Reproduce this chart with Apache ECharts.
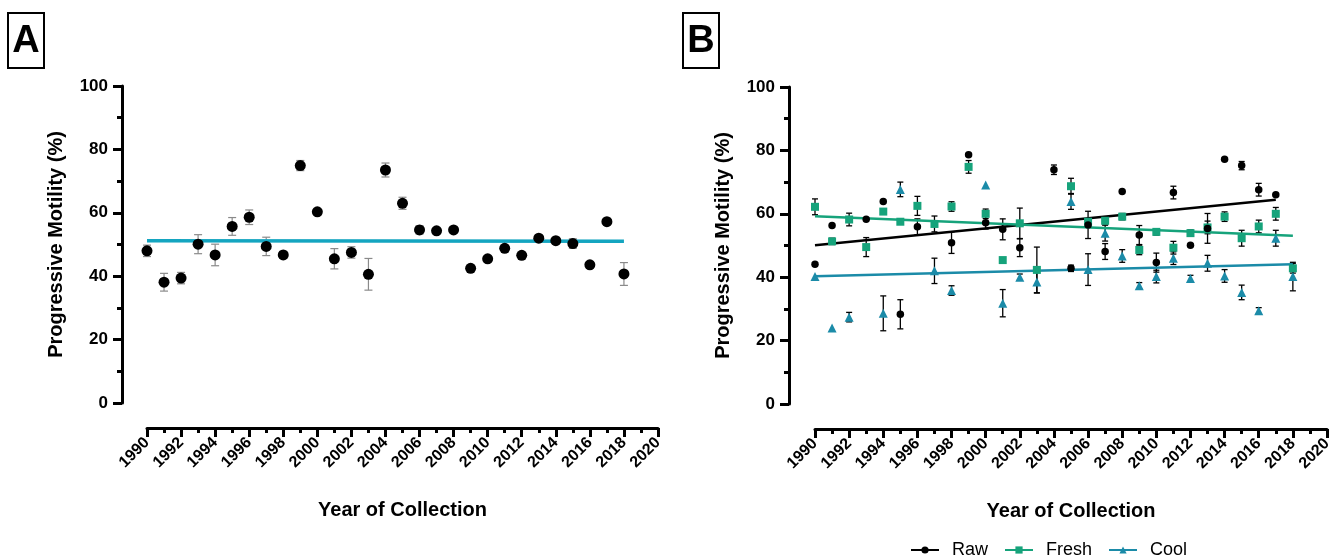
<!DOCTYPE html>
<html>
<head>
<meta charset="utf-8">
<script src="https://cdn.jsdelivr.net/npm/echarts@6/dist/echarts.min.js"></script>
<style>
html,body{margin:0;padding:0;background:#fff;}
#chart{width:1341px;height:557px;}
</style>
</head>
<body>
<div id="chart"></div>
<script>
// ---------- DATA ----------
const years = [1990,1991,1992,1993,1994,1995,1996,1997,1998,1999,2000,2001,2002,2003,2004,2005,2006,2007,2008,2009,2010,2011,2012,2013,2014,2015,2016,2017,2018];
const xTickLabels = ['1990','1992','1994','1996','1998','2000','2002','2004','2006','2008','2010','2012','2014','2016','2018','2020'];
const yTickLabels = ['0','20','40','60','80','100'];

// Panel A: all samples
const motilityA = [48.0,38.1,39.4,50.1,46.7,55.7,58.6,49.4,46.7,74.9,60.3,45.5,47.5,40.6,73.5,63.0,54.6,54.3,54.6,42.5,45.5,48.8,46.6,52.0,51.2,50.3,43.6,57.2,40.7];
const errorA    = [1.8,2.8,1.8,3.0,3.4,2.8,2.3,2.9,1.1,1.6,0,3.2,1.8,5.0,2.2,1.9,1.3,0,0,0,0,0,0,0,0,1.5,0,0,3.6];
const trendAYears = [1990,2018];
const trendAValues = [51.2,51.0];

// Panel B: by semen type
const rawValues   = [44.1,56.3,null,58.3,63.9,28.3,55.9,null,50.9,78.6,57.2,55.1,49.3,null,73.9,42.8,56.5,48.1,67.0,53.3,44.6,66.7,50.1,55.4,77.2,75.2,67.6,66.0,null];
const rawErrors   = [0,0,0,0,0,4.6,2.5,0,3.4,0,2.0,3.3,2.8,0,1.5,1.0,4.3,2.5,0,3.0,3.0,2.0,0,4.7,0,1.3,2.0,0,0];
const freshValues = [62.2,51.3,58.2,49.5,60.7,57.5,62.5,56.8,62.3,74.8,60.0,45.4,57.0,42.3,null,68.7,57.5,57.8,59.1,48.6,54.3,49.3,53.9,55.7,59.1,52.3,56.0,60.0,42.8];
const freshErrors = [2.5,1.0,2.0,3.0,0,0.5,3.0,2.5,1.5,2.0,1.5,0,4.8,7.2,0,2.5,0,1.0,1.0,1.5,1.0,2.0,1.0,2.0,1.5,2.5,2.0,2.0,1.5];
const coolValues  = [40.2,24.0,27.4,null,28.6,67.7,null,42.0,35.8,null,69.1,31.8,40.0,38.5,null,63.9,42.4,53.9,46.7,37.3,40.2,46.0,39.6,44.4,40.4,35.2,29.4,52.3,40.2];
const coolErrors  = [0,0,1.5,0,5.5,2.3,0,4.0,1.5,0,0,4.3,1.0,3.5,0,2.5,5.0,2.5,2.0,1.0,2.0,2.0,1.0,2.5,2.0,2.3,1.0,2.5,4.5];
const trendRawYears = [1990,2017];   const trendRawValues = [50.1,64.4];
const trendFreshYears = [1990,2018]; const trendFreshValues = [59.2,53.1];
const trendCoolYears = [1990,2018];  const trendCoolValues = [40.3,44.1];
const seriesNames = ['Raw','Fresh','Cool'];

// ---------- helpers ----------
const FONT = '"Liberation Sans", Arial, sans-serif';
const BLACK = '#000000', GREEN = '#16a37b', TEAL = '#1b8ba8', TEAL_A = '#14a5c0';

function pts(vals){ return years.map((y,i)=> vals[i]==null ? null : [y, vals[i]]).filter(Boolean); }
function errs(vals, e){ return years.map((y,i)=> (vals[i]==null || !e[i]) ? null : [y, vals[i]-e[i], vals[i]+e[i]]).filter(Boolean); }
function pair(xs, ys){ return xs.map((x,i)=>[x, ys[i]]); }

function errRender(color, cap, lw){
  return function(params, api){
    const x = api.value(0);
    const lo = api.coord([x, api.value(1)]);
    const hi = api.coord([x, api.value(2)]);
    const st = {stroke:color, lineWidth:lw};
    return {type:'group', children:[
      {type:'line', shape:{x1:hi[0],y1:hi[1],x2:lo[0],y2:lo[1]}, style:st},
      {type:'line', shape:{x1:hi[0]-cap,y1:hi[1],x2:hi[0]+cap,y2:hi[1]}, style:st},
      {type:'line', shape:{x1:lo[0]-cap,y1:lo[1],x2:lo[0]+cap,y2:lo[1]}, style:st}
    ]};
  };
}

function xAxisCfg(gi){
  return {
    type:'value', gridIndex:gi, min:1990, max:2020, interval:2, offset:25,
    splitLine:{show:false},
    axisLine:{show:true, onZero:false, lineStyle:{color:BLACK, width:3}},
    axisTick:{show:true, length:9, lineStyle:{color:BLACK, width:3}},
    minorTick:{show:true, splitNumber:2, length:5, lineStyle:{color:BLACK, width:3}},
    axisLabel:{rotate:45, margin:12, color:BLACK, fontSize:16, fontWeight:'bold', fontFamily:FONT,
      formatter:(v)=> xTickLabels[Math.round((v-1990)/2)] || ''},
    name:'Year of Collection', nameLocation:'middle', nameGap:72,
    nameTextStyle:{color:BLACK, fontSize:20, fontWeight:'bold', fontFamily:FONT}
  };
}
function yAxisCfg(gi, off){
  return {
    type:'value', gridIndex:gi, min:0, max:100, interval:20, offset:off,
    splitLine:{show:false},
    axisLine:{show:true, lineStyle:{color:BLACK, width:3}},
    axisTick:{show:true, length:9, lineStyle:{color:BLACK, width:3}},
    minorTick:{show:true, splitNumber:2, length:5, lineStyle:{color:BLACK, width:3}},
    axisLabel:{margin:14, color:BLACK, fontSize:17, fontWeight:'bold', fontFamily:FONT,
      formatter:(v)=> yTickLabels[Math.round(v/20)]},
    name:'Progressive Motility (%)', nameLocation:'middle', nameGap:56,
    nameTextStyle:{color:BLACK, fontSize:20, fontWeight:'bold', fontFamily:FONT}
  };
}

const option = {
  animation:false,
  backgroundColor:'#ffffff',
  grid:[
    {left:147, top:86, width:511, height:317},
    {left:815, top:87, width:512, height:317}
  ],
  xAxis:[xAxisCfg(0), xAxisCfg(1)],
  yAxis:[yAxisCfg(0,25), yAxisCfg(1,26)],
  legend:{
    data:seriesNames, left:905, top:536, itemWidth:28, itemHeight:9, itemGap:16,
    textStyle:{color:BLACK, fontSize:18, fontFamily:FONT, padding:[0,0,0,8]}
  },
  graphic:[
    {type:'rect', shape:{x:8,y:13,width:36,height:55}, style:{fill:'none', stroke:BLACK, lineWidth:2}},
    {type:'text', x:26, y:42, style:{text:'A', align:'center', verticalAlign:'middle', font:'bold 38px "Liberation Sans", Arial, sans-serif', fill:BLACK}},
    {type:'rect', shape:{x:683,y:13,width:36,height:55}, style:{fill:'none', stroke:BLACK, lineWidth:2}},
    {type:'text', x:701, y:42, style:{text:'B', align:'center', verticalAlign:'middle', font:'bold 38px "Liberation Sans", Arial, sans-serif', fill:BLACK}}
  ],
  series:[
    // Panel A
    {type:'custom', name:'errA', xAxisIndex:0, yAxisIndex:0, renderItem:errRender('#8a8a8a',4,1.2), data:errs(motilityA, errorA), z:2, clip:false},
    {type:'line', name:'trendA', xAxisIndex:0, yAxisIndex:0, data:pair(trendAYears, trendAValues), symbol:'none', lineStyle:{color:TEAL_A, width:3.5}, z:3},
    {type:'scatter', name:'All', xAxisIndex:0, yAxisIndex:0, data:pts(motilityA), symbol:'circle', symbolSize:11, itemStyle:{color:BLACK, opacity:1}, z:4},
    // Panel B error bars
    {type:'custom', name:'errRaw', xAxisIndex:1, yAxisIndex:1, renderItem:errRender(BLACK,3,1.3), data:errs(rawValues, rawErrors), z:2, clip:false},
    {type:'custom', name:'errFresh', xAxisIndex:1, yAxisIndex:1, renderItem:errRender(BLACK,3,1.3), data:errs(freshValues, freshErrors), z:2, clip:false},
    {type:'custom', name:'errCool', xAxisIndex:1, yAxisIndex:1, renderItem:errRender(BLACK,3,1.3), data:errs(coolValues, coolErrors), z:2, clip:false},
    // Panel B trend lines (also legend entries)
    {type:'line', name:'Raw', xAxisIndex:1, yAxisIndex:1, data:pair(trendRawYears, trendRawValues), symbol:'circle', showSymbol:false, symbolSize:7, itemStyle:{color:BLACK}, lineStyle:{color:BLACK, width:2.5}, z:3},
    {type:'line', name:'Fresh', xAxisIndex:1, yAxisIndex:1, data:pair(trendFreshYears, trendFreshValues), symbol:'rect', showSymbol:false, symbolSize:7, itemStyle:{color:GREEN}, lineStyle:{color:GREEN, width:2.5}, z:3},
    {type:'line', name:'Cool', xAxisIndex:1, yAxisIndex:1, data:pair(trendCoolYears, trendCoolValues), symbol:'triangle', showSymbol:false, symbolSize:7, itemStyle:{color:TEAL}, lineStyle:{color:TEAL, width:2.5}, z:3},
    // Panel B points
    {type:'scatter', name:'Cool pts', xAxisIndex:1, yAxisIndex:1, data:pts(coolValues), symbol:'triangle', symbolSize:9, itemStyle:{color:TEAL, opacity:1}, z:4},
    {type:'scatter', name:'Fresh pts', xAxisIndex:1, yAxisIndex:1, data:pts(freshValues), symbol:'rect', symbolSize:8, itemStyle:{color:GREEN, opacity:1}, z:4},
    {type:'scatter', name:'Raw pts', xAxisIndex:1, yAxisIndex:1, data:pts(rawValues), symbol:'circle', symbolSize:7.5, itemStyle:{color:BLACK, opacity:1}, z:5}
  ]
};
const chart = echarts.init(document.getElementById('chart'), null, {renderer:'canvas'});
chart.setOption(option);
</script>
</body>
</html>
